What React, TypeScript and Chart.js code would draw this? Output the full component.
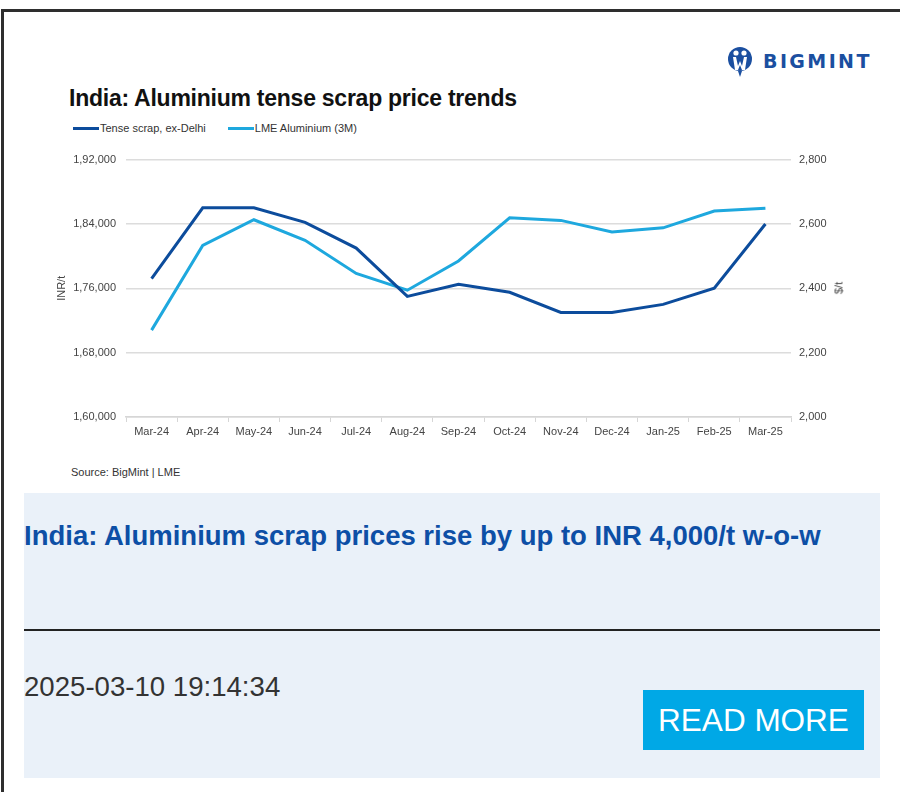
import React, { useEffect, useRef } from "react";
import { Chart, registerables } from "chart.js";

Chart.register(...registerables);

const months = ["Mar-24", "Apr-24", "May-24", "Jun-24", "Jul-24", "Aug-24", "Sep-24", "Oct-24", "Nov-24", "Dec-24", "Jan-25", "Feb-25", "Mar-25"];
const tenseScrap = [177200, 186000, 186000, 184200, 181000, 175000, 176500, 175500, 173000, 173000, 174000, 176000, 184000];
const lmeAluminium = [2270, 2533, 2613, 2549, 2446, 2394, 2485, 2619, 2611, 2575, 2588, 2640, 2649];
const leftTicks = { min: 160000, max: 192000, step: 8000 };
const rightTicks = { min: 2000, max: 2800, step: 200 };

const DARK = "#0C4C9C";
const LIGHT = "#1EA8DE";
const FONT = "'Liberation Sans', Arial, sans-serif";

function indian(n: number): string {
  const s = Math.round(n).toString();
  if (s.length <= 3) return s;
  const last3 = s.slice(-3);
  let rest = s.slice(0, -3);
  const parts: string[] = [];
  while (rest.length > 2) {
    parts.unshift(rest.slice(-2));
    rest = rest.slice(0, -2);
  }
  if (rest) parts.unshift(rest);
  return parts.join(",") + "," + last3;
}

function western(n: number): string {
  return Math.round(n).toString().replace(/\B(?=(\d{3})+(?!\d))/g, ",");
}

function ChartBox() {
  const ref = useRef<HTMLCanvasElement | null>(null);
  useEffect(() => {
    if (!ref.current) return;
    const tickFont = { family: FONT, size: 11 };
    const chart = new Chart(ref.current, {
      type: "line",
      data: {
        labels: months,
        datasets: [
          {
            label: "Tense scrap, ex-Delhi",
            data: tenseScrap,
            borderColor: DARK,
            backgroundColor: DARK,
            borderWidth: 3,
            pointRadius: 0,
            tension: 0,
            yAxisID: "y",
          },
          {
            label: "LME Aluminium (3M)",
            data: lmeAluminium,
            borderColor: LIGHT,
            backgroundColor: LIGHT,
            borderWidth: 3,
            pointRadius: 0,
            tension: 0,
            yAxisID: "y1",
          },
        ],
      },
      options: {
        animation: false,
        responsive: false,
        maintainAspectRatio: false,
        layout: { padding: { top: 9, left: 0, right: 0, bottom: 0 } },
        plugins: { legend: { display: false }, tooltip: { enabled: false }, title: { display: false } },
        scales: {
          x: {
            offset: true,
            grid: { offset: true, drawOnChartArea: false, color: "#d6d6d6", tickLength: 5, lineWidth: 1 },
            border: { display: true, color: "#d6d6d6", width: 1.5 },
            ticks: { color: "#444", font: tickFont, padding: 3, maxRotation: 0, autoSkip: false },
            afterFit: (s: any) => { s.height = 28; },
          },
          y: {
            position: "left",
            min: leftTicks.min,
            max: leftTicks.max,
            ticks: { stepSize: leftTicks.step, color: "#444", font: tickFont, padding: 10, callback: (v: any) => indian(Number(v)) },
            grid: { color: "#dcdcdc", lineWidth: 1.5, drawTicks: false },
            border: { display: false },
            title: { display: true, text: "INR/t", color: "#444", font: tickFont, padding: { top: 15, bottom: 0 } },
            afterFit: (s: any) => { s.width = 86; },
          },
          y1: {
            position: "right",
            min: rightTicks.min,
            max: rightTicks.max,
            ticks: { stepSize: rightTicks.step, color: "#444", font: tickFont, padding: 8, callback: (v: any) => western(Number(v)) },
            grid: { drawOnChartArea: false, drawTicks: false },
            border: { display: false },
            title: { display: false },
            afterFit: (s: any) => { s.width = 69; },
          },
        },
      },
    });
    return () => chart.destroy();
  }, []);
  return <canvas ref={ref} width={820} height={302} style={{ position: "absolute", left: 40, top: 143, width: 820, height: 302 }} />;
}

function Logo() {
  return (
    <div style={{ position: "absolute", left: 727, top: 44, height: 34, display: "flex", alignItems: "center" }}>
      <svg width={26} height={34} viewBox="0 0 26 34">
        <circle cx={13} cy={15} r={12} fill="#1B4FA0" />
        <circle cx={9} cy={9} r={2.6} fill="#fff" />
        <circle cx={17} cy={9} r={2.6} fill="#fff" />
        <path d="M6 13 L9 13 L11 22 L13 17 L15 22 L17 13 L20 13 L18 26 L15 26 L13 21 L11 26 L8 26 Z" fill="#fff" />
        <path d="M11 27 L13 33 L15 27 Z" fill="#1B4FA0" />
      </svg>
      <span style={{ marginLeft: 10, fontFamily: "'DejaVu Sans', sans-serif", fontWeight: 700, fontSize: 19, letterSpacing: 2.4, color: "#1B4FA0" }}>BIGMINT</span>
    </div>
  );
}

export default function App() {
  return (
    <div style={{ position: "absolute", left: 0, top: 0, width: 900, height: 792, background: "#fff", overflow: "hidden", fontFamily: FONT }}>
      <div style={{ position: "absolute", left: 1, top: 9, width: 1000, height: 1000, borderTop: "3px solid #2e2e2e", borderLeft: "3px solid #2e2e2e" }} />
      <Logo />
      <div style={{ position: "absolute", left: 69, top: 85, fontFamily: FONT, fontWeight: 700, fontSize: 23, letterSpacing: -0.25, color: "#111", whiteSpace: "nowrap" }}>
        India: Aluminium tense scrap price trends
      </div>
      <div style={{ position: "absolute", left: 73, top: 122, display: "flex", alignItems: "center", fontSize: 11, color: "#333", whiteSpace: "nowrap" }}>
        <span style={{ display: "inline-block", width: 26, height: 3, background: DARK }} />
        <span style={{ marginLeft: 1 }}>Tense scrap, ex-Delhi</span>
        <span style={{ display: "inline-block", width: 26, height: 3, background: LIGHT, marginLeft: 22 }} />
        <span style={{ marginLeft: 1 }}>LME Aluminium (3M)</span>
      </div>
      <ChartBox />
      <div style={{ position: "absolute", left: 839, top: 288, width: 0, height: 0 }}>
        <div style={{ position: "absolute", left: 0, top: 0, transform: "translate(-50%, -50%) rotate(-90deg)", fontSize: 11, color: "#444", whiteSpace: "nowrap", lineHeight: "13px" }}>$/t</div>
      </div>
      <div style={{ position: "absolute", left: 71, top: 466, fontSize: 11, color: "#333", whiteSpace: "nowrap" }}>Source: BigMint | LME</div>
      <div style={{ position: "absolute", left: 24, top: 493, width: 856, height: 285, background: "#EAF1F9" }}>
        <div style={{ position: "absolute", left: 0, top: 27, fontWeight: 700, fontSize: 27.5, color: "#0D4FA6", whiteSpace: "nowrap" }}>
          India: Aluminium scrap prices rise by up to INR 4,000/t w-o-w
        </div>
        <div style={{ position: "absolute", left: 0, top: 136, width: 856, height: 2, background: "#222" }} />
        <div style={{ position: "absolute", left: 0, top: 178, fontSize: 27.6, color: "#333", whiteSpace: "nowrap" }}>2025-03-10 19:14:34</div>
        <div style={{ position: "absolute", left: 619, top: 197, width: 221, height: 60, background: "#00A8E6", color: "#fff", fontSize: 31.5, display: "flex", alignItems: "center", justifyContent: "center" }}>
          READ MORE
        </div>
      </div>
    </div>
  );
}
